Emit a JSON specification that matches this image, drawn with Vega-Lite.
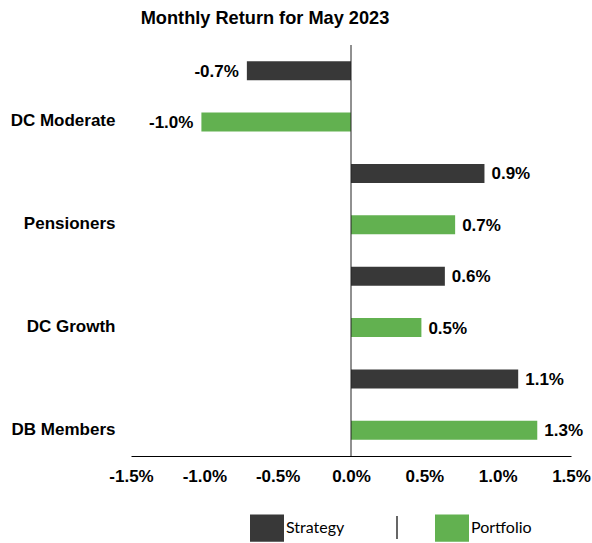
{
  "$schema": "https://vega.github.io/schema/vega-lite/v6.json",
  "width": 440,
  "height": 411,
  "autosize": {"type": "none"},
  "padding": {"left": 131, "top": 45, "right": 21, "bottom": 87},
  "title": {
    "text": "Monthly Return for May 2023",
    "font": "Liberation Sans",
    "fontSize": 18.2,
    "fontWeight": "bold",
    "color": "#000000",
    "anchor": "middle",
    "dx": -86,
    "offset": 16
  },
  "config": {
    "view": {"stroke": null},
    "font": "Liberation Sans",
    "locale": {
      "number": {"decimal": ".", "thousands": ",", "grouping": [3], "currency": ["$", ""], "minus": "-"}
    }
  },
  "data": {
    "values": [
      {"fund": "DC Moderate", "series": "Strategy", "value": -0.0071},
      {"fund": "DC Moderate", "series": "Portfolio", "value": -0.0102},
      {"fund": "Pensioners", "series": "Strategy", "value": 0.0091},
      {"fund": "Pensioners", "series": "Portfolio", "value": 0.0071},
      {"fund": "DC Growth", "series": "Strategy", "value": 0.0064},
      {"fund": "DC Growth", "series": "Portfolio", "value": 0.0048},
      {"fund": "DB Members", "series": "Strategy", "value": 0.0114},
      {"fund": "DB Members", "series": "Portfolio", "value": 0.0127}
    ]
  },
  "layer": [
    {
      "mark": {"type": "bar"},
      "encoding": {
        "y": {
          "field": "fund", "type": "nominal",
          "scale": {"domain": ["DC Moderate", "Pensioners", "DC Growth", "DB Members"], "paddingInner": 0, "paddingOuter": 0},
          "axis": {"domain": false, "ticks": false, "labelFont": "Liberation Sans", "labelFontSize": 17, "labelFontWeight": "bold", "labelColor": "#000000", "labelPadding": 16, "labelOffset": 25, "title": null}
        },
        "yOffset": {
          "field": "series", "type": "nominal",
          "scale": {"domain": ["Strategy", "Portfolio"], "paddingInner": 0.63, "paddingOuter": 0.315}
        },
        "x": {
          "field": "value", "type": "quantitative",
          "scale": {"domain": [-0.015, 0.015], "nice": false, "zero": false},
          "axis": {"orient": "bottom", "domainColor": "#000000", "domainWidth": 1, "ticks": false, "grid": false,
                   "values": [-0.015, -0.01, -0.005, 0, 0.005, 0.01, 0.015], "format": ".1%",
                   "labelFont": "Liberation Sans", "labelFontSize": 17, "labelFontWeight": "bold", "labelColor": "#000000",
                   "labelPadding": 12, "labelFlush": false, "title": null}
        },
        "color": {
          "field": "series", "type": "nominal",
          "scale": {"domain": ["Strategy", "Portfolio"], "range": ["#383838", "#62b150"]},
          "legend": {
            "orient": "none", "legendX": 119, "legendY": 466, "direction": "horizontal", "title": null,
            "symbolType": "M-1,-0.8H1V0.8H-1Z", "symbolSize": 1156, "symbolOpacity": 1, "symbolStrokeWidth": 0,
            "labelFont": "Lato", "labelFontSize": 16, "labelColor": "#000000", "labelOffset": 2,
            "columnPadding": 90, "padding": 0
          }
        }
      }
    },
    {
      "data": {"values": [{"zero": 0, "sep": "separator"}]},
      "mark": {"type": "rule", "color": "#222222", "strokeWidth": 1},
      "encoding": {
        "x": {"field": "zero", "type": "quantitative"},
        "opacity": {
          "field": "sep", "type": "nominal",
          "scale": {"range": [1]},
          "legend": {
            "orient": "none", "legendX": 253.5, "legendY": 470, "title": null,
            "symbolType": "M0,-1V1", "symbolSize": 529, "symbolStrokeColor": "#000000", "symbolStrokeWidth": 1.2,
            "symbolFillColor": "transparent", "labelExpr": "''", "labelOffset": 0, "padding": 0
          }
        }
      }
    },
    {
      "transform": [{"filter": "datum.value < 0"}],
      "mark": {"type": "text", "align": "right", "baseline": "middle", "dx": -8, "dy": 1, "font": "Liberation Sans", "fontSize": 17, "fontWeight": "bold", "color": "#000000"},
      "encoding": {
        "y": {"field": "fund", "type": "nominal"},
        "yOffset": {"field": "series", "type": "nominal"},
        "x": {"field": "value", "type": "quantitative"},
        "text": {"field": "value", "type": "quantitative", "format": ".1%"}
      }
    },
    {
      "transform": [{"filter": "datum.value >= 0"}],
      "mark": {"type": "text", "align": "left", "baseline": "middle", "dx": 7, "dy": 1, "font": "Liberation Sans", "fontSize": 17, "fontWeight": "bold", "color": "#000000"},
      "encoding": {
        "y": {"field": "fund", "type": "nominal"},
        "yOffset": {"field": "series", "type": "nominal"},
        "x": {"field": "value", "type": "quantitative"},
        "text": {"field": "value", "type": "quantitative", "format": ".1%"}
      }
    }
  ]
}
